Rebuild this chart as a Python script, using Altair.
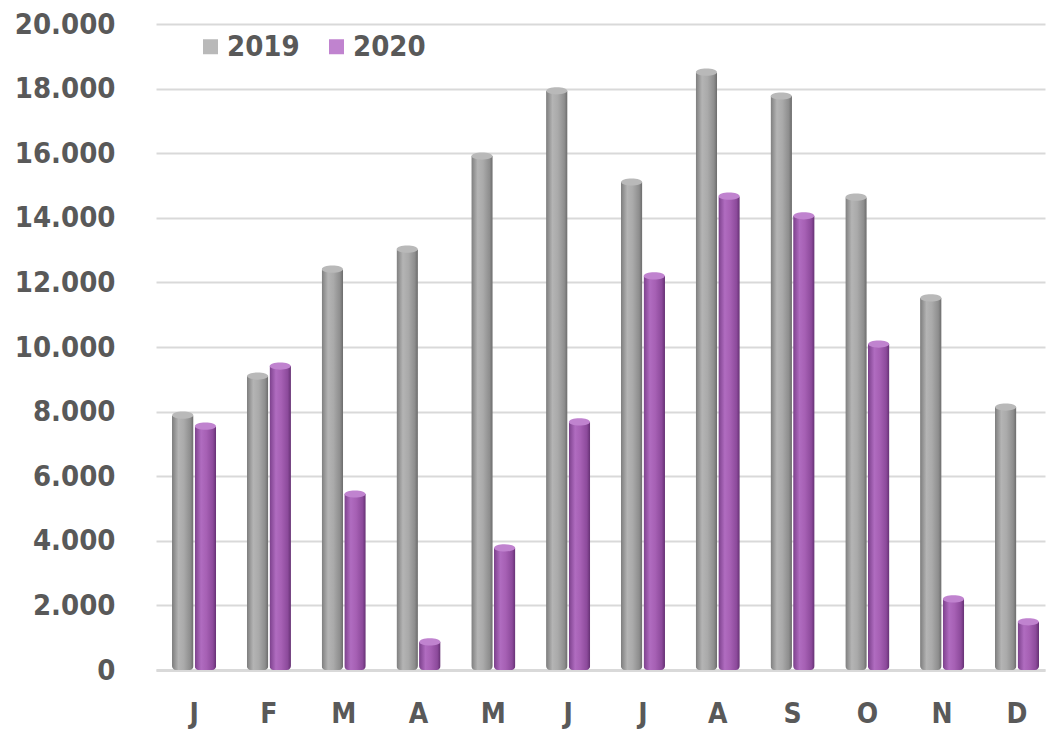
import altair as alt
import pandas as pd

months = ["Jan", "Feb", "Mar", "Apr", "May", "Jun", "Jul", "Aug", "Sep", "Oct", "Nov", "Dec"]
month_labels = ["J", "F", "M", "A", "M", "J", "J", "A", "S", "O", "N", "D"]
years = ["2019", "2020"]
values_2019 = [7890, 9100, 12410, 13030, 15910, 17930, 15110, 18510, 17770, 14640, 11520, 8140]
values_2020 = [7550, 9410, 5450, 870, 3780, 7680, 12200, 14670, 14060, 10090, 2200, 1490]
y_ticks = list(range(0, 20001, 2000))

rows = []
for m, v1, v2 in zip(months, values_2019, values_2020):
    rows.append({"month": m, "year": years[0], "value": v1})
    rows.append({"month": m, "year": years[1], "value": v2})
df = pd.DataFrame(rows)

FONT = "DejaVu Sans Condensed, DejaVu Sans"
TEXT = "#595959"

lab_arr = "[" + ",".join(f"'{l}'" for l in month_labels) + "]"
mon_arr = "[" + ",".join(f"'{m}'" for m in months) + "]"
x_label_expr = f"{lab_arr}[indexof({mon_arr}, datum.value)]"

x_enc = alt.X(
    "month:N",
    sort=months,
    scale=alt.Scale(paddingInner=0.41, paddingOuter=0.147, align=0.728),
    axis=alt.Axis(
        title=None, labelAngle=0, labelExpr=x_label_expr, labelFont=FONT,
        labelFontSize=28, labelFontWeight="bold", labelColor=TEXT,
        ticks=False, tickSize=0, labelPadding=30, domain=True,
        domainColor="#d9d9d9", domainWidth=3, grid=False,
    ),
)
y_enc = alt.Y(
    "value:Q",
    scale=alt.Scale(domain=[0, 20000], nice=False),
    axis=alt.Axis(
        title=None, values=y_ticks,
        labelExpr="replace(format(datum.value, ','), ',', '.')",
        labelFont=FONT, labelFontSize=29, labelFontWeight="bold", labelColor=TEXT,
        ticks=False, tickSize=0, domain=False, labelPadding=41,
        gridColor="#d9d9d9", gridWidth=2,
    ),
)
xoff = alt.XOffset("year:N", scale=alt.Scale(domain=years, paddingInner=0.05))

def grad(stops):
    return alt.Gradient(
        gradient="linear", x1=0, x2=1, y1=0, y2=0,
        stops=[alt.GradientStop(color=c, offset=o) for o, c in stops],
    )

gray = grad([(0, "#7c7c7c"), (0.3, "#b4b4b4"), (0.55, "#aaaaaa"), (0.85, "#8e8e8e"), (1, "#6a6a6a")])
purple = grad([(0, "#7a3f8a"), (0.3, "#b06cc0"), (0.55, "#a660b4"), (0.85, "#8c4a9b"), (1, "#643072")])

base = alt.Chart(df)

bars19 = base.transform_filter(alt.datum.year == years[0]).mark_bar(
    color=gray, cornerRadiusBottomLeft=4, cornerRadiusBottomRight=4
).encode(x=x_enc, y=y_enc, xOffset=xoff)

bars20 = base.transform_filter(alt.datum.year == years[1]).mark_bar(
    color=purple, cornerRadiusBottomLeft=4, cornerRadiusBottomRight=4
).encode(x=x_enc, y=y_enc, xOffset=xoff)

cap_shape = "M-1,0 A1,0.34 0 1,0 1,0 A1,0.34 0 1,0 -1,0 Z"
caps = base.mark_point(shape=cap_shape, filled=True, size=21 * 21, opacity=1).encode(
    x=x_enc, y=y_enc, xOffset=xoff,
    color=alt.Color(
        "year:N",
        scale=alt.Scale(domain=years, range=["#b9b9b9", "#c083cf"]),
        legend=alt.Legend(
            title=None, orient="none", legendX=40, legendY=8, direction="horizontal",
            symbolType="square", symbolSize=225, symbolStrokeWidth=0,
            labelFont=FONT, labelFontSize=29, labelFontWeight="bold", labelColor=TEXT,
            columnPadding=22, labelOffset=2,
        ),
    ),
)

chart = alt.layer(bars19, bars20, caps).properties(
    width=889, height=646,
    padding={"left": 148, "top": 16, "right": 4, "bottom": 62},
    autosize=alt.AutoSizeParams(type="none"),
).configure_view(stroke=None)

chart.save("out.html", embed_options={"renderer": "svg", "actions": False})
